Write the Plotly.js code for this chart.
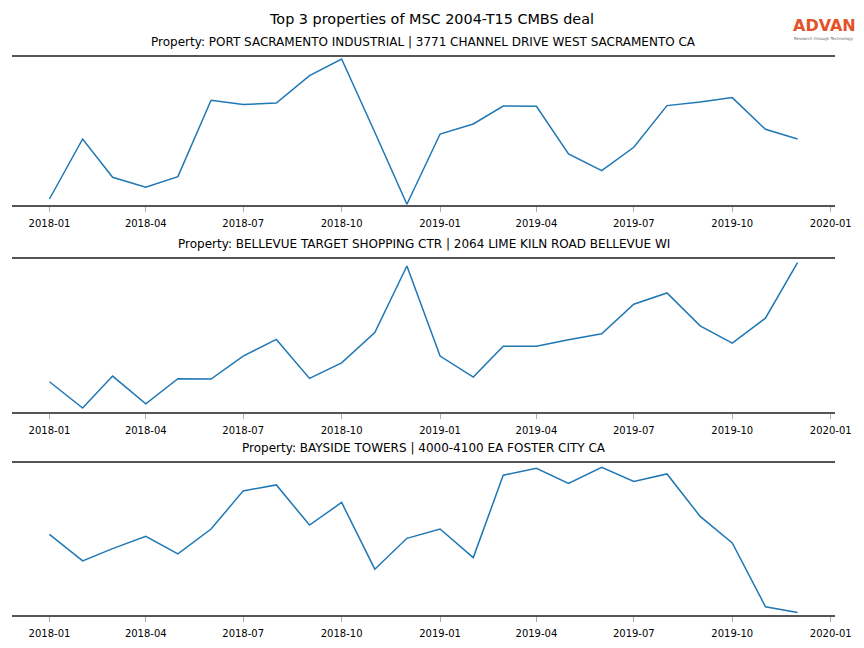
<!DOCTYPE html>
<html>
<head>
<meta charset="utf-8">
<script src="https://cdn.plot.ly/plotly-3.0.1.min.js"></script>
<style>html,body{margin:0;padding:0;background:#fff;}#chart{width:864px;height:648px;}</style>
</head>
<body>
<div id="chart"></div>
<script>
const months = ['2018-01','2018-02','2018-03','2018-04','2018-05','2018-06','2018-07','2018-08','2018-09','2018-10','2018-11','2018-12',
                '2019-01','2019-02','2019-03','2019-04','2019-05','2019-06','2019-07','2019-08','2019-09','2019-10','2019-11','2019-12'];
const tickLabels = ['2018-01','2018-04','2018-07','2018-10','2019-01','2019-04','2019-07','2019-10','2020-01'];

const titles = [
  'Property: PORT SACRAMENTO INDUSTRIAL | 3771 CHANNEL DRIVE WEST SACRAMENTO CA',
  'Property: BELLEVUE TARGET SHOPPING CTR | 2064 LIME KILN ROAD BELLEVUE WI',
  'Property: BAYSIDE TOWERS | 4000-4100 EA FOSTER CITY CA'
];

const portSacramento = [6.0, 66.0, 27.7, 17.7, 28.4, 104.7, 100.4, 102.0, 129.4, 146.0, 72.7, 0.7,
                        71.0, 81.0, 99.0, 98.7, 51.0, 34.4, 57.7, 99.4, 103.0, 107.4, 75.7, 66.0];
const bellevueTarget = [30.3, 4.0, 36.0, 8.3, 33.3, 33.0, 56.0, 72.7, 33.7, 49.3, 79.7, 146.3,
                        56.0, 35.0, 66.0, 66.0, 72.3, 78.3, 108.0, 119.3, 86.3, 69.0, 94.0, 149.7];
const baysideTowers = [81.0, 54.3, 66.6, 79.0, 61.3, 86.3, 124.6, 130.6, 90.3, 113.0, 46.0, 77.0,
                       86.3, 57.6, 140.3, 147.3, 132.0, 148.3, 134.0, 141.6, 99.0, 72.3, 8.3, 2.6];
const yRanges = [[0, 148], [0, 153.3], [0, 152.6]];

const series = [portSacramento, bellevueTarget, baysideTowers];
const dates = months.map(m => m + '-01');
const tickVals = tickLabels.map(t => t + '-01');

const W = 864, H = 648;
const xDom = [12 / W, 835 / W];
const yPix = [[57, 205], [259, 412], [463, 615]];

const traces = series.map((s, i) => ({
  x: dates, y: s, type: 'scatter', mode: 'lines',
  line: {color: '#1f77b4', width: 1.5},
  xaxis: i === 0 ? 'x' : 'x' + (i + 1),
  yaxis: i === 0 ? 'y' : 'y' + (i + 1),
  hoverinfo: 'skip'
}));

const layout = {
  width: W, height: H,
  margin: {l: 0, r: 0, t: 0, b: 0},
  paper_bgcolor: '#fff', plot_bgcolor: '#fff',
  showlegend: false,
  font: {family: 'DejaVu Sans', color: '#000'},
  annotations: [],
  title: {text: 'Top 3 properties of MSC 2004-T15 CMBS deal', x: 0.5, xanchor: 'center', y: 1 - 19 / H, yanchor: 'middle',
          font: {family: 'DejaVu Sans', size: 14.4, color: '#000'}}
};

series.forEach((s, i) => {
  const sfx = i === 0 ? '' : String(i + 1);
  const yd = [1 - yPix[i][1] / H, 1 - yPix[i][0] / H];
  layout['xaxis' + sfx] = {
    domain: xDom, anchor: 'y' + sfx, type: 'date',
    range: ['2017-11-27', '2020-01-05'],
    tickvals: tickVals, ticktext: tickLabels,
    ticks: 'outside', ticklen: 5, tickwidth: 0.8, tickcolor: '#999',
    ticklabelstandoff: 3,
    tickfont: {family: 'DejaVu Sans', size: 10, color: '#000'},
    showline: true, mirror: true, linecolor: '#555', linewidth: 2,
    showgrid: false, zeroline: false, fixedrange: true
  };
  layout['yaxis' + sfx] = {
    domain: yd, anchor: 'x' + sfx, range: yRanges[i],
    showticklabels: false, ticks: '', showgrid: false, zeroline: false, showline: false, fixedrange: true
  };
  layout.annotations.push({
    text: titles[i], xref: 'paper', yref: 'paper',
    x: (xDom[0] + xDom[1]) / 2, y: 1 - (yPix[i][0] - 15) / H,
    xanchor: 'center', yanchor: 'middle', showarrow: false,
    font: {family: 'DejaVu Sans', size: 12, color: '#000'}
  });
});

layout.annotations.push({
  text: '<b>ADVAN</b>', xref: 'paper', yref: 'paper', x: 824 / W, y: 1 - 25.5 / H,
  xanchor: 'center', yanchor: 'middle', showarrow: false,
  font: {family: 'DejaVu Sans', size: 16, color: '#e4522a'}
});
layout.annotations.push({
  text: 'Research through Technology', xref: 'paper', yref: 'paper', x: 824 / W, y: 1 - 38.5 / H,
  xanchor: 'center', yanchor: 'middle', showarrow: false,
  font: {family: 'DejaVu Sans', size: 4, color: '#666'}
});

Plotly.newPlot('chart', traces, layout, {staticPlot: true, displayModeBar: false});
</script>
</body>
</html>
